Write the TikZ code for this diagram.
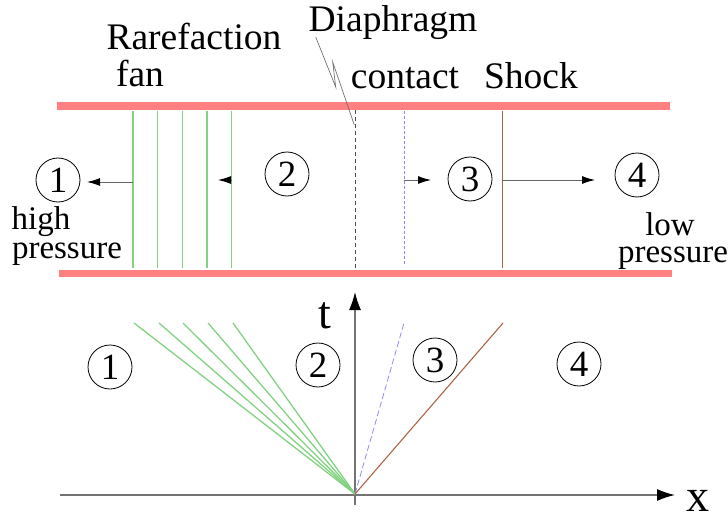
\documentclass[tikz,border=0pt]{standalone}
\usepackage{fontspec}
\setmainfont{Liberation Serif}
\usetikzlibrary{arrows.meta}
\definecolor{fangreen}{RGB}{130,210,130}
\definecolor{contactblue}{RGB}{140,140,245}
\definecolor{shockbrown}{RGB}{170,100,70}
\tikzstyle{bigtext}=[anchor=base,inner sep=0pt,text depth=0pt,font=\fontsize{37.5}{38}\selectfont]
\tikzstyle{smalltext}=[anchor=base,inner sep=0pt,text depth=0pt,font=\fontsize{33}{34}\selectfont]
\tikzstyle{axistext}=[anchor=base,inner sep=0pt,text depth=0pt,font=\fontsize{46}{46}\selectfont]
\tikzstyle{region}=[circle,draw,line width=0.8pt,inner sep=0pt,minimum size=44pt,font=\fontsize{37}{37}\selectfont]
\tikzstyle{pipe}=[draw,line width=7.5pt,color=red!50]
\tikzstyle{fan}=[draw,line width=1.3pt,color=fangreen]
\tikzstyle{contact}=[draw,dash pattern=on 3pt off 2pt,line width=0.8pt,color=contactblue]
\tikzstyle{shock}=[draw,line width=1.1pt,color=shockbrown]
\tikzstyle{diaphragm}=[draw,dash pattern=on 4pt off 3pt,line width=1pt,color=black!70]
\tikzstyle{leader}=[draw,line width=0.7pt,color=black!55]
\tikzstyle{wave}=[draw,line width=1pt,color=black!60,-{Latex[black,length=13pt,width=8pt]}]
\tikzstyle{axis}=[draw,line width=1.4pt,color=black!55,-{Latex[black,length=18pt,width=12pt]}]

\begin{document}
\begin{tikzpicture}[x=1pt,y=-1pt]
\useasboundingbox (0,0) rectangle (728,516);
% tube
\coordinate (topl) at (57,106);
\coordinate (topr) at (670,106);
\coordinate (botl) at (59,273.5);
\coordinate (botr) at (672,273.5);
\path [pipe] (topl) -- (topr);
\path [pipe] (botl) -- (botr);
% labels
\node [bigtext] (rare) at (194,50) {Rarefaction};
\node [bigtext] (fantext) at (140,87) {fan};
\node [bigtext] (diatext) at (393,32) {Diaphragm};
\node [bigtext] (contacttext) at (405,89) {contact};
\node [bigtext] (shocktext) at (531,89) {Shock};
\node [smalltext] (high) at (41,229) {high};
\node [smalltext] (presl) at (67,258) {pressure};
\node [smalltext] (low) at (670,235) {low};
\node [smalltext] (presr) at (673,262) {pressure};
% states in the tube
\node [region] (one) at (58,180) {1};
\node [region] (two) at (287,174) {2};
\node [region] (three) at (470,179) {3};
\node [region] (four) at (637,175) {4};
% fronts in the tube
\coordinate (fa) at (133,111);
\coordinate (fb) at (157.7,111);
\coordinate (fc) at (182.3,111);
\coordinate (fd) at (207,111);
\coordinate (fe) at (231.5,111);
\coordinate (ga) at (133,268);
\coordinate (gb) at (157.7,268);
\coordinate (gc) at (182.3,268);
\coordinate (gd) at (207,268);
\coordinate (ge) at (231.5,268);
\path [fan] (fa) -- (ga);
\path [fan] (fb) -- (gb);
\path [fan] (fc) -- (gc);
\path [fan] (fd) -- (gd);
\path [fan] (fe) -- (ge);
\coordinate (da) at (355,110);
\coordinate (db) at (355,268);
\path [diaphragm] (da) -- (db);
\coordinate (ca) at (404,111);
\coordinate (cb) at (404,266);
\path [contact] (ca) -- (cb);
\coordinate (sa) at (502.5,111);
\coordinate (sb) at (502.5,268);
\path [shock] (sa) -- (sb);
% leader of the diaphragm
\coordinate (la) at (315.7,37);
\coordinate (lb) at (335.7,87);
\coordinate (lc) at (332.7,62);
\coordinate (ld) at (354.3,125);
\path [leader] (la) -- (lb) -- (lc) -- (ld);
% wave arrows
\coordinate (wa) at (133,182);
\coordinate (wb) at (87,182);
\coordinate (wc) at (231.5,180);
\coordinate (wd) at (218,180);
\coordinate (we) at (404,180);
\coordinate (wf) at (431,180);
\coordinate (wg) at (502.5,180);
\coordinate (wh) at (595,180);
\path [wave] (wa) -- (wb);
\path [wave] (wc) -- (wd);
\path [wave] (we) -- (wf);
\path [wave] (wg) -- (wh);
% x-t diagram
\coordinate (origin) at (355,494);
\coordinate (xa) at (60,495);
\coordinate (xb) at (675,495);
\coordinate (ta) at (355,505);
\coordinate (tb) at (355,292);
\path [axis] (xa) -- (xb);
\path [axis] (ta) -- (tb);
\node [axistext] (tlabel) at (325,328) {t};
\node [axistext] (xlabel) at (698,511) {x};
\coordinate (ra) at (134,323);
\coordinate (rb) at (159,323);
\coordinate (rc) at (183,323);
\coordinate (rd) at (208,323);
\coordinate (re) at (233,323);
\path [fan] (origin) -- (ra);
\path [fan] (origin) -- (rb);
\path [fan] (origin) -- (rc);
\path [fan] (origin) -- (rd);
\path [fan] (origin) -- (re);
\coordinate (rcontact) at (404,323);
\coordinate (rshock) at (503,323);
\path [contact,dash pattern=on 6pt off 3pt] (origin) -- (rcontact);
\path [shock] (origin) -- (rshock);
\node [region] (xtone) at (110,367) {1};
\node [region] (xttwo) at (318,365) {2};
\node [region] (xtthree) at (435,360) {3};
\node [region] (xtfour) at (579,364) {4};
\end{tikzpicture}
\end{document}
